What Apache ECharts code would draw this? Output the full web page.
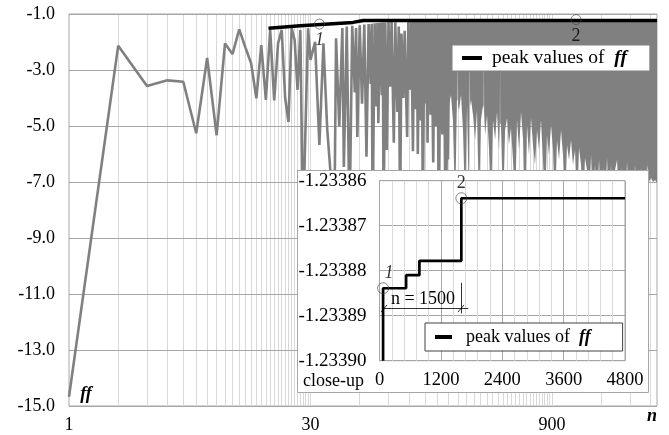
<!DOCTYPE html>
<html><head><meta charset="utf-8">
<script src="https://cdn.jsdelivr.net/npm/echarts@6/dist/echarts.min.js"></script>
<style>html,body{margin:0;padding:0;background:#fff}#c{width:669px;height:435px}</style>
</head><body><div id="c"></div>
<script>
// ---------- data ----------
const yTicks = [-15, -13, -11, -9, -7, -5, -3, -1];
const insetXTicks = [0, 1200, 2400, 3600, 4800];
const insetYTicks = [-1.23390, -1.23389, -1.23388, -1.23387, -1.23386];
// ff values [n, ff] (individual oscillations)
const ffData = [
 [1,-14.67],[2,-2.13],[3,-3.57],[4,-3.37],[5,-3.42],[6,-5.26],[7,-2.57],[8,-5.33],[9,-2.05],[10,-2.43],
 [11,-1.55],[12,-2.2],[13,-2.76],[14,-4.01],[15,-2.11],[16,-4.07],[17,-1.57],[18,-4.09],[19,-2.05],[20,-1.57],
 [21,-4.0],[22,-4.86],[23,-1.51],[24,-1.93],[25,-3.71],[26,-1.57],[27,-8.5],[29,-1.51],[30,-2.64],[32,-1.99],
 [34,-5.68],[36,-2.05],[38,-5.14],[42,-8.5],[43,-1.87],[45,-5.02],[47,-1.5],[48,-6.46],[50,-1.45],[52,-8.5],
 [54,-1.42],[56,-3.8],[57,-1.5],[58,-5.39],[60,-1.4],[62,-4.2],[64,-1.38],[66,-6.1],[68,-1.36],[70,-3.5],
 [71,-1.35],[72,-8.5],[74,-1.33],[76,-4.3],[77,-1.32],[78,-4.9],[80,-1.31],[82,-3.9],[83,-1.3],[84,-8.5],
 [86,-1.3],[88,-5.86],[90,-1.29],[92,-3.6],[94,-1.29],[97,-5.6],[99,-1.3],[102,-4.5],[104,-1.45],[106,-8.5],
 [108,-1.7],[111,-4.0],[113,-1.6],[117,-5.39],[119,-1.28],[122,-3.7],[124,-1.27],[127,-5.9],[129,-1.26],[132,-4.4],
 [134,-1.26],[136,-6.0],[139,-1.25],[142,-4.8],[144,-1.25],[146,-8.5],[149,-1.25],[152,-4.2],[154,-1.25],[156,-5.6],
 [159,-1.25],[163,-4.6],[165,-1.25],[169,-6.3],[172,-1.24],[176,-5.0],[179,-1.24],[183,-8.5],[187,-1.24],[192,-5.3],
 [196,-1.24],[201,-8.5],[205,-1.24],[208,-6.2],[212,-1.24]
];
// dense part of ff: upper edge and jagged lower edge of the filled band [n, lower ff]
const bandTop = -1.236;
const bandLowPts = [
 [125,-3.4],[131,-3.9],[137,-3.2],[142,-4.1],[149,-3.6],[155,-4.3],[161,-3.5],[169,-4.4],[176,-3.8],[184,-4.6],[192,-4.0],
 [200,-5.86],[205,-8],[211,-4.25],[217,-3.89],[223,-4.79],[230,-8],[236,-4.07],[238,-4.1],[239,-2.5],[240,-4.3],[243,-4.43],[250,-3.89],[257,-5.14],
 [265,-8],[272,-4.25],[280,-8],[282,-4.2],[283,-2.2],[284,-4.3],[288,-4.07],[296,-4.61],[305,-5.5],[313,-4.43],[322,-8],[331,-4.79],[341,-4.25],
 [344,-4.4],[345,-2.0],[346,-4.5],[351,-5.32],[361,-4.61],[371,-5.86],[381,-8],[392,-4.79],[404,-5.5],[415,-4.5],[427,-5.86],
 [432,-4.8],[433,-2.6],[434,-4.9],[439,-4.96],[452,-8],
 [465,-5.14],[478,-4.71],[491,-5.68],[505,-5.07],[520,-6.21],[535,-8],[550,-4.79],[566,-5.86],[582,-4.5],[599,-5.5],
 [616,-8],[633,-4.96],[651,-6.04],[670,-4.71],[689,-5.68],[709,-6.39],[729,-5.14],[750,-5.86],[771,-4.79],[793,-6.21],
 [816,-8],[839,-5.32],[863,-6.04],[888,-4.96],[913,-5.86],[939,-8],[966,-5.5],[994,-6.21],[1022,-5.14],[1051,-6.04],
 [1081,-8],[1112,-5.68],[1144,-6.21],[1177,-5.5],[1210,-6.39],[1245,-5.86],[1281,-8],[1317,-5.79],[1355,-6.39],[1394,-8],
 [1433,-6.14],[1474,-6.57],[1516,-8],[1560,-6.04],[1604,-8],[1650,-6.39],[1697,-8],[1746,-6.21],[1796,-8],[1847,-6.5],
 [1900,-8],[1954,-6.14],[2010,-8],[2067,-6.39],[2126,-8],[2187,-6.57],[2250,-6.21],[2314,-8],[2380,-6.5],[2448,-8],
 [2518,-8],[2590,-6.29],[2664,-8],[2740,-6.57],[2818,-8],[2899,-6.39],[2982,-8],[3067,-8],[3154,-6.5],[3244,-8],
 [3337,-8],[3433,-6.39],[3531,-7.0],[3631,-6.86],[3735,-7.0],[3842,-6.93],[3950,-7.04]
];
// peak values of ff (main chart)
const peakMain = [[16.6,-1.51],[26,-1.42],[54.6,-1.30],[63,-1.234],[3950,-1.234]];
const markMain = [[34,-1.36,'1'],[1264,-1.20,'2']];
// close-up
const insetStepN = [70, 70, 520, 780, 1600, 4800];
const insetStepV = [-1.2339, -1.2338839, -1.2338810, -1.2338778, -1.2338639, -1.2338639];
const insetMarks = [[70,-1.2338839,'1'],[1600,-1.2338639,'2']];
const dimLineV = -1.2338884;

// ---------- chart ----------
const FONT = '"Liberation Serif", "Times New Roman", Times, "DejaVu Serif", serif';
const vGrid = [];
for (let k = 2; k < 30; k++) vGrid.push(k);
for (let k = 1; k < 30; k++) vGrid.push(30 * k);
vGrid.push(900, 1800, 2700, 3600);

const chart = echarts.init(document.getElementById('c'), null, {renderer: 'canvas'});
function legendText(size) {
  return {
    fontFamily: FONT, fontSize: size, color: '#000',
    rich: {b: {fontFamily: FONT, fontSize: size, fontStyle: 'italic', fontWeight: 'bold', color: '#000'}}
  };
}
const option = {
  animation: false,
  backgroundColor: '#fff',
  textStyle: {fontFamily: FONT},
  grid: [
    {left: 69, right: 12, top: 14, bottom: 29, show: true, borderColor: '#a6a6a6', borderWidth: 1, z: 0},
    {left: 379.5, right: 44, top: 180.7, bottom: 74.3, show: true, borderColor: '#a6a6a6', borderWidth: 1, backgroundColor: '#fff', z: 11}
  ],
  xAxis: [
    {type: 'log', logBase: 30, min: 1, max: 3950, gridIndex: 0,
     axisLine: {show: false}, axisTick: {show: false}, splitLine: {show: false}, minorTick: {show: false},
     axisLabel: {fontFamily: FONT, fontSize: 18, color: '#000', margin: 10, showMaxLabel: false,
       formatter: v => String(Math.round(v))}},
    {type: 'value', min: 0, max: 4800, interval: 1200, gridIndex: 1, z: 12,
     axisLine: {show: false}, axisTick: {show: false},
     splitLine: {show: true, lineStyle: {color: '#a6a6a6', width: 1}},
     minorTick: {show: false, splitNumber: 5},
     minorSplitLine: {show: true, lineStyle: {color: '#d9d9d9', width: 1}},
     axisLabel: {fontFamily: FONT, fontSize: 18.5, color: '#000', margin: 10, formatter: v => String(Math.round(v))}}
  ],
  yAxis: [
    {type: 'value', min: -15, max: -1, interval: 1, gridIndex: 0,
     axisLine: {show: false}, axisTick: {show: false}, splitLine: {show: false},
     axisLabel: {fontFamily: FONT, fontSize: 18, color: '#000', margin: 14,
       formatter: v => (Math.round(v) % 2 !== 0 ? v.toFixed(1) : '')}},
    {type: 'value', min: insetYTicks[0], max: insetYTicks[4], interval: 0.00001, gridIndex: 1, z: 12,
     axisLine: {show: false}, axisTick: {show: false},
     splitLine: {show: true, lineStyle: {color: '#a6a6a6', width: 1}},
     axisLabel: {fontFamily: FONT, fontSize: 19, color: '#000', margin: 13, formatter: v => v.toFixed(5)}}
  ],
  legend: [
    {left: 452, top: 45, padding: [3, 23, 3, 10], z: 15, selectedMode: false,
     backgroundColor: '#fff', borderColor: '#808080', borderWidth: 1,
     icon: 'rect', itemWidth: 20, itemHeight: 4, data: ['peak values of ff'],
     formatter: () => ' peak values of  {b|ff}', textStyle: legendText(19.5)},
    {left: 425, top: 323, padding: [5, 32, 5, 10], z: 15, selectedMode: false,
     backgroundColor: '#fff', borderColor: '#404040', borderWidth: 1,
     icon: 'rect', itemWidth: 17, itemHeight: 4, data: ['peak values of ff'],
     formatter: () => '  peak values of  {b|ff}', textStyle: legendText(18)}
  ],
  graphic: [
    {type: 'rect', z: 10, shape: {x: 297.5, y: 170.5, width: 351, height: 222},
     style: {fill: '#fff', stroke: '#a6a6a6', lineWidth: 1}},
    {type: 'text', z: 20, x: 303, y: 381, style: {text: 'close-up', fontFamily: FONT, fontSize: 18, fill: '#000', align: 'left', verticalAlign: 'middle'}},
    {type: 'text', z: 20, x: 423, y: 299, style: {text: 'n = 1500', fontFamily: FONT, fontSize: 18, fill: '#000', align: 'center', verticalAlign: 'middle'}},
    {type: 'text', z: 20, x: 652, y: 416, style: {text: 'n', fontFamily: FONT, fontSize: 18, fontStyle: 'italic', fontWeight: 'bold', fill: '#000', align: 'center', verticalAlign: 'middle'}},
    {type: 'text', z: 20, x: 86, y: 394, style: {text: 'ff', fontFamily: FONT, fontSize: 18, fontStyle: 'italic', fontWeight: 'bold', fill: '#000', align: 'center', verticalAlign: 'middle'}}
  ],
  series: [
    {type: 'line', xAxisIndex: 0, yAxisIndex: 0, z: 1, silent: true, data: [[1, -1]], showSymbol: false,
     lineStyle: {opacity: 0},
     markLine: {z: 1, silent: true, symbol: ['none', 'none'], animation: false, label: {show: false},
       lineStyle: {color: '#d9d9d9', width: 1, type: 'solid'},
       data: vGrid.map(v => ({xAxis: v})).concat(yTicks.map(v => ({yAxis: v, lineStyle: {color: '#a6a6a6', width: 1, type: 'solid'}})))}},
    {type: 'line', name: 'ff', xAxisIndex: 0, yAxisIndex: 0, z: 3, silent: true, data: ffData,
     showSymbol: false, lineStyle: {color: '#808080', width: 2.6}, itemStyle: {color: '#808080'}},
    {type: 'custom', name: 'ffBand', xAxisIndex: 0, yAxisIndex: 0, z: 3, silent: true, clip: true,
     data: [[bandLowPts[0][0], bandTop]],
     renderItem: function (params, api) {
       const pts = [];
       for (let i = 0; i < bandLowPts.length; i++) pts.push(api.coord([bandLowPts[i][0], bandTop]));
       for (let i = bandLowPts.length - 1; i >= 0; i--) pts.push(api.coord(bandLowPts[i]));
       return {type: 'polygon', shape: {points: pts}, style: {fill: '#808080'}};
     }},
    {type: 'line', name: 'peak values of ff', xAxisIndex: 0, yAxisIndex: 0, z: 6, data: peakMain,
     showSymbol: false, lineStyle: {color: '#000', width: 3.5}, itemStyle: {color: '#000'}},
    {type: 'scatter', name: 'markers', xAxisIndex: 0, yAxisIndex: 0, z: 7, silent: true,
     symbol: 'circle', symbolSize: 10,
     itemStyle: {color: 'rgba(0,0,0,0)', borderColor: '#404040', borderWidth: 0.8},
     label: {show: true, position: 'bottom', distance: 2, fontFamily: FONT, fontSize: 18, color: '#000'},
     data: markMain.map(m => ({value: [m[0], m[1]], label: {formatter: m[2], fontStyle: m[2] === '1' ? 'italic' : 'normal'}}))},
    {type: 'line', name: 'peak values of ff', xAxisIndex: 1, yAxisIndex: 1, z: 13, step: 'end',
     data: insetStepN.map((n, i) => [n, insetStepV[i]]),
     showSymbol: false, lineStyle: {color: '#000', width: 2.7}, itemStyle: {color: '#000'},
     markLine: {z: 16, silent: true, symbol: ['none', 'none'], animation: false, label: {show: false},
       lineStyle: {color: '#000', width: 0.8, type: 'solid'},
       data: [
         [{coord: [70, dimLineV]}, {coord: [1736, dimLineV]}],
         [{coord: [1600, -1.2338827]}, {coord: [1600, -1.2338895]}],
         [{coord: [29, -1.2338892]}, {coord: [147, -1.2338876]}],
         [{coord: [1535, -1.2338892]}, {coord: [1652, -1.2338876]}]
       ]}},
    {type: 'scatter', name: 'insetMarkers', xAxisIndex: 1, yAxisIndex: 1, z: 14, silent: true,
     symbol: 'circle', symbolSize: 11,
     itemStyle: {color: 'rgba(0,0,0,0)', borderColor: '#404040', borderWidth: 0.8},
     label: {show: true, position: 'top', distance: 0, fontFamily: FONT, fontSize: 18, color: '#000'},
     data: insetMarks.map(m => ({value: [m[0], m[1]], label: {formatter: m[2], fontStyle: m[2] === '1' ? 'italic' : 'normal', offset: m[2] === '1' ? [6, 0] : [0, 0]}}))}
  ]
};
chart.setOption(option);
</script>
</body></html>
